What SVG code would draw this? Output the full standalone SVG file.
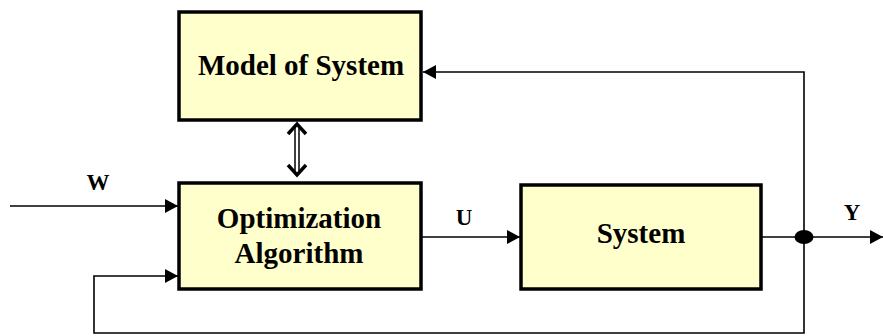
<svg xmlns="http://www.w3.org/2000/svg" width="883" height="336" viewBox="0 0 883 336">
<style>
.box{fill:#FFFFCC;stroke:#000;stroke-width:3.5}
.ln{fill:none;stroke:#000;stroke-width:1.6}
.t{font-family:"Liberation Serif","Times New Roman",serif;font-weight:bold;fill:#000;text-anchor:middle}
.big{font-size:29px}
.lbl{font-size:23px}
</style>
<defs>
<marker id="ah" markerWidth="14" markerHeight="14" refX="13" refY="7" orient="auto" markerUnits="userSpaceOnUse">
<path d="M0,0 L13,7 L0,14 Z" fill="#000"/>
</marker>
</defs>
<rect width="883" height="336" fill="#fff"/>
<g id="connectors">
<line class="ln" x1="10" y1="206" x2="178" y2="206" marker-end="url(#ah)"/>
<line class="ln" x1="422" y1="237" x2="520" y2="237" marker-end="url(#ah)"/>
<line class="ln" x1="762" y1="237" x2="883" y2="237" marker-end="url(#ah)"/>
<polyline class="ln" points="804,237 804,72 423,72" marker-end="url(#ah)"/>
<polyline class="ln" points="804,237 804,333 94,333 94,276 178,276" marker-end="url(#ah)"/>
<ellipse cx="804" cy="237" rx="9.5" ry="7" fill="#000"/>
<g id="double-arrow">
<line x1="295" y1="126" x2="295" y2="173" stroke="#000" stroke-width="1.5"/>
<line x1="299" y1="126" x2="299" y2="173" stroke="#000" stroke-width="1.5"/>
<polyline points="288,134 297,124 306,134" fill="none" stroke="#000" stroke-width="3.5"/>
<polyline points="288,165 297,175 306,165" fill="none" stroke="#000" stroke-width="3.5"/>
</g>
<text class="t lbl" x="98" y="190">W</text>
<text class="t lbl" x="464" y="225">U</text>
<text class="t lbl" x="852" y="220">Y</text>
</g>
<g id="model">
<rect class="box" x="179" y="12" width="242" height="108"/>
<text class="t big" x="301" y="75">Model of System</text>
</g>
<g id="optimization">
<rect class="box" x="179" y="183" width="242" height="106"/>
<text class="t big" x="299" y="228">Optimization</text>
<text class="t big" x="299" y="263">Algorithm</text>
</g>
<g id="system">
<rect class="box" x="521" y="185" width="240" height="104"/>
<text class="t big" x="641" y="243">System</text>
</g>
</svg>
